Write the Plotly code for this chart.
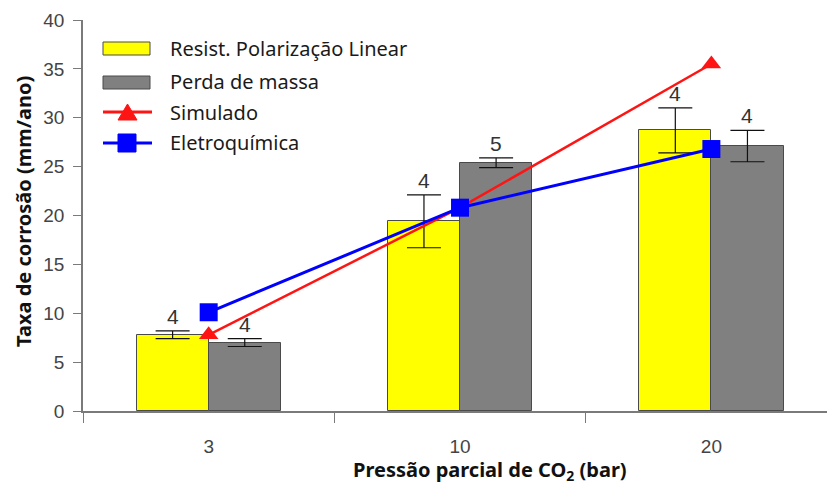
import plotly.graph_objects as go

# CO2 partial pressure categories (bar)
pressures = ["3", "10", "20"]
positions = [0, 1, 2]

# Linear polarization resistance: mean corrosion rate, error and number of tests
rpl_rate = [7.8, 19.4, 28.7]
rpl_err = [0.4, 2.7, 2.3]
rpl_n = [4, 4, 4]

# Mass loss: mean corrosion rate, error and number of tests
mass_rate = [7.0, 25.4, 27.1]
mass_err = [0.4, 0.5, 1.6]
mass_n = [4, 5, 4]

# Simulated and electrochemical estimates
simulated = [7.8, 20.8, 35.5]
electrochem = [10.1, 20.8, 26.8]

YELLOW = "#ffff00"
GRAY = "#808080"
RED = "#ff1414"
BLUE = "#0000ff"
AXIS = "#7a7a7a"
BAR_W = 0.287

W, H = 827, 486
L, R, T, B = 83, 0, 20, 75
PW, PH = W - L - R, H - T - B


def px(x):
    return (x - L) / PW


def py(y):
    return (H - B - y) / PH


fig = go.Figure()

err_style = dict(type="data", color="#111111", thickness=1.2, width=17, visible=True)

fig.add_bar(
    x=positions, y=rpl_rate, width=BAR_W, offset=-BAR_W,
    marker=dict(color=YELLOW, line=dict(color="#4a4a4a", width=1)),
    error_y=dict(array=rpl_err, **err_style),
    name="Resist. Polarização Linear", showlegend=False,
)
fig.add_bar(
    x=positions, y=mass_rate, width=BAR_W, offset=0,
    marker=dict(color=GRAY, line=dict(color="#4a4a4a", width=1)),
    error_y=dict(array=mass_err, **err_style),
    name="Perda de massa", showlegend=False,
)
fig.add_scatter(
    x=positions, y=simulated, mode="lines+markers",
    line=dict(color=RED, width=2.5),
    marker=dict(symbol="triangle-up", size=17, color=RED),
    name="Simulado", showlegend=False,
)
fig.add_scatter(
    x=positions, y=electrochem, mode="lines+markers",
    line=dict(color=BLUE, width=3),
    marker=dict(symbol="square", size=18, color=BLUE),
    name="Eletroquímica", showlegend=False,
)

annotations = []
# sample counts above each error bar
for i, p in enumerate(positions):
    for off, val, err, n in (
        (-BAR_W / 2, rpl_rate[i], rpl_err[i], rpl_n[i]),
        (BAR_W / 2, mass_rate[i], mass_err[i], mass_n[i]),
    ):
        annotations.append(dict(
            x=p + off, y=val + err, xref="x", yref="y",
            text=str(n), showarrow=False, yanchor="bottom", yshift=1,
            font=dict(family="Liberation Sans, Arial", size=21, color="#333333"),
        ))

# axis titles
annotations.append(dict(
    x=px(23), y=py(212), xref="paper", yref="paper", textangle=-90,
    xanchor="center", yanchor="middle",
    text="<b>Taxa de corrosão (mm/ano)</b>", showarrow=False,
    font=dict(family="Noto Sans", size=20, color="#111111"),
))
annotations.append(dict(
    x=px(490), y=py(470), xref="paper", yref="paper",
    xanchor="center", yanchor="middle",
    text="<b>Pressão parcial de CO<sub>2</sub> (bar)</b>", showarrow=False,
    font=dict(family="Noto Sans", size=20, color="#111111"),
))

# legend
legend_rows = [
    ("Resist. Polarização Linear", 48),
    ("Perda de massa", 82),
    ("Simulado", 112),
    ("Eletroquímica", 142),
]
for label, yc in legend_rows:
    annotations.append(dict(
        x=px(168), y=py(yc), xref="paper", yref="paper",
        xanchor="left", yanchor="middle",
        text=label, showarrow=False,
        font=dict(family="Noto Sans", size=20, color="#1a1a1a"),
    ))

shapes = []
shapes.append(dict(type="rect", xref="paper", yref="paper",
                   x0=px(103), x1=px(150), y0=py(42), y1=py(55),
                   fillcolor=YELLOW, line=dict(color="#4a4a4a", width=1)))
shapes.append(dict(type="rect", xref="paper", yref="paper",
                   x0=px(103), x1=px(150), y0=py(76), y1=py(89),
                   fillcolor=GRAY, line=dict(color="#4a4a4a", width=1)))
shapes.append(dict(type="line", xref="paper", yref="paper",
                   x0=px(103), x1=px(152), y0=py(112), y1=py(112),
                   line=dict(color=RED, width=3)))
shapes.append(dict(type="path", xref="paper", yref="paper",
                   path=f"M {px(118)},{py(120)} L {px(137)},{py(120)} L {px(127.5)},{py(104)} Z",
                   fillcolor=RED, line=dict(color=RED, width=1)))
shapes.append(dict(type="line", xref="paper", yref="paper",
                   x0=px(103), x1=px(152), y0=py(143), y1=py(143),
                   line=dict(color=BLUE, width=3)))
shapes.append(dict(type="rect", xref="paper", yref="paper",
                   x0=px(118), x1=px(136), y0=py(134), y1=py(152),
                   fillcolor=BLUE, line=dict(color=BLUE, width=1)))

fig.update_layout(
    width=W, height=H,
    margin=dict(l=L, r=R, t=T, b=B),
    plot_bgcolor="white", paper_bgcolor="white",
    bargap=0, showlegend=False,
    annotations=annotations, shapes=shapes,
    font=dict(family="Liberation Sans, Arial", size=19, color="#444444"),
)
fig.update_xaxes(
    range=[-0.5, 2.46], tickmode="array", tickvals=positions, ticktext=pressures,
    ticks="", showgrid=False, zeroline=False,
    showline=True, linecolor=AXIS, linewidth=1.5,
    tickfont=dict(family="Liberation Sans, Arial", size=19, color="#444444"),
    minor=dict(tickmode="array", tickvals=[-0.5, 0.5, 1.5], ticks="outside",
               ticklen=10, tickcolor=AXIS, tickwidth=1.2),
    ticklabelstandoff=17,
)
fig.update_yaxes(
    range=[0, 40], dtick=5, tick0=0, ticks="outside", ticklen=8,
    tickcolor=AXIS, tickwidth=1.2, showgrid=False, zeroline=False,
    showline=True, linecolor=AXIS, linewidth=1.5,
    tickfont=dict(family="Liberation Sans, Arial", size=19, color="#444444"),
    ticklabelstandoff=5,
)

fig.write_html("out.html")
